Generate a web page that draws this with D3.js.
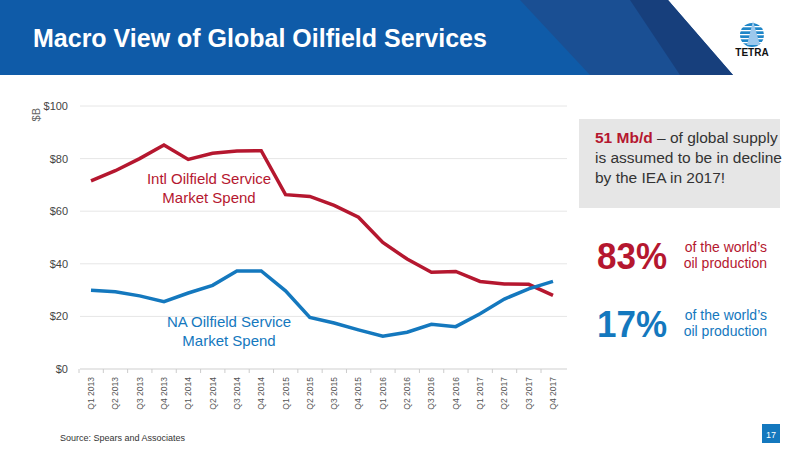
<!DOCTYPE html><html><head><meta charset="utf-8"><script src="https://cdn.jsdelivr.net/npm/d3@7"></script>
<style>body{margin:0}svg{font-family:"Liberation Sans",Arial,sans-serif}</style></head><body><svg width="800" height="450"></svg>
<script>
const quarters=["Q1 2013","Q2 2013","Q3 2013","Q4 2013","Q1 2014","Q2 2014","Q3 2014","Q4 2014","Q1 2015","Q2 2015","Q3 2015","Q4 2015","Q1 2016","Q2 2016","Q3 2016","Q4 2016","Q1 2017","Q2 2017","Q3 2017","Q4 2017"];
const intl=[71.5,75.4,80,85.2,79.7,82,82.9,83,66.3,65.6,62.2,57.7,48.1,41.8,36.8,37.1,33.3,32.3,32.2,28];
const na=[29.9,29.4,27.8,25.6,28.9,31.8,37.3,37.3,29.7,19.6,17.5,14.9,12.5,14,17,16.1,21,26.6,30.5,33.3];
const yTicks=[0,20,40,60,80,100];
const svg=d3.select("svg");
svg.append("rect").attr("width",800).attr("height",450).attr("fill","#fff");
svg.append("rect").attr("width",668).attr("height",75).attr("fill","#0f5ba8");
svg.append("polygon").attr("points","520,0 668,0 733,75 590,75").attr("fill","#1a4f93");
svg.append("polygon").attr("points","630,0 668,0 733,75 680,75").attr("fill","#173f7c");
svg.append("text").attr("x",33).attr("y",47).attr("fill","#fff").attr("font-size",25).attr("font-weight","bold").text("Macro View of Global Oilfield Services");
const lg=svg.append("g");
lg.append("circle").attr("cx",752).attr("cy",35).attr("r",12).attr("fill","#1f86c8");
[26,30,34,38,42].forEach(y=>lg.append("rect").attr("x",738).attr("y",y).attr("width",28).attr("height",1.3).attr("fill","#fff"));
lg.append("polygon").attr("points","753,21 747,45 760,45").attr("fill","#9cc8ec");
lg.append("text").attr("x",752).attr("y",56).attr("text-anchor","middle").attr("font-size",10).attr("font-weight","bold").attr("fill","#111").text("TETRA");
const x=d3.scalePoint().domain(quarters).range([91,553]);
const y=d3.scaleLinear().domain([0,100]).range([369,106]);
const g=svg.append("g");
yTicks.forEach(t=>{g.append("line").attr("x1",80).attr("x2",567).attr("y1",y(t)).attr("y2",y(t)).attr("stroke",t?"#e6e6e6":"#cfcfcf");
g.append("text").attr("x",68).attr("y",y(t)+4).attr("text-anchor","end").attr("font-size",11).attr("fill","#444").text("$"+t);});
svg.append("text").attr("transform","translate(40,108) rotate(-90)").attr("text-anchor","end").attr("font-size",11).attr("fill","#666").text("$B");
quarters.forEach(q=>{g.append("line").attr("x1",x(q)-12).attr("x2",x(q)-12).attr("y1",369).attr("y2",373).attr("stroke","#ccc");
g.append("text").attr("transform",`translate(${x(q)+3},377) rotate(-90)`).attr("text-anchor","end").attr("font-size",8.5).attr("fill","#555").text(q);});
const line=d3.line().x((d,i)=>x(quarters[i])).y(d=>y(d));
g.append("path").attr("d",line(intl)).attr("fill","none").attr("stroke","#b5172f").attr("stroke-width",3.5);
g.append("path").attr("d",line(na)).attr("fill","none").attr("stroke","#1478be").attr("stroke-width",3.5);
const lab=(t,x0,y0,c)=>t.forEach((s,i)=>svg.append("text").attr("x",x0).attr("y",y0+i*19).attr("text-anchor","middle").attr("font-size",15).attr("fill",c).text(s));
lab(["Intl Oilfield Service","Market Spend"],209,184,"#b5172f");
lab(["NA Oilfield Service","Market Spend"],229,327,"#1478be");
svg.append("rect").attr("x",579).attr("y",119).attr("width",201).attr("height",89).attr("fill","#e6e6e6");
const bt=svg.append("text").attr("font-size",15.5).attr("fill","#333");
bt.append("tspan").attr("x",595).attr("y",143).attr("fill","#b5172f").attr("font-weight","bold").text("51 Mb/d");
bt.append("tspan").text(" – of global supply");
bt.append("tspan").attr("x",595).attr("y",163).text("is assumed to be in decline");
bt.append("tspan").attr("x",595).attr("y",183).text("by the IEA in 2017!");
[["83%",269,"#b5172f"],["17%",337,"#1478be"]].forEach(([p,yy,c])=>{
svg.append("text").attr("x",597).attr("y",yy).attr("font-size",36).attr("font-weight","bold").attr("fill",c).attr("textLength",70).attr("lengthAdjust","spacingAndGlyphs").text(p);
svg.append("text").attr("x",767).attr("y",yy-17).attr("text-anchor","end").attr("font-size",14).attr("fill",c).text("of the world’s");
svg.append("text").attr("x",767).attr("y",yy-1).attr("text-anchor","end").attr("font-size",14).attr("fill",c).text("oil production");});
svg.append("text").attr("x",60).attr("y",441).attr("font-size",9).attr("fill","#333").text("Source: Spears and Associates");
svg.append("rect").attr("x",762).attr("y",424).attr("width",18).attr("height",19).attr("fill","#1478be");
svg.append("text").attr("x",771).attr("y",438).attr("text-anchor","middle").attr("font-size",9).attr("fill","#fff").text("17");
</script></body></html>
